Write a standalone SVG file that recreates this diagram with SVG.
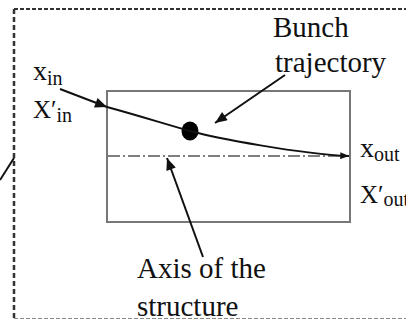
<svg xmlns="http://www.w3.org/2000/svg" width="406" height="321" viewBox="0 0 406 321">
<style>
text{font-family:"Liberation Serif","Times New Roman",serif;fill:#111}
.lbl{font-size:29px}
.sym{font-size:28px}
.big{font-size:25px}
.sub{font-size:20px}
.cn{fill:none;stroke:#111;stroke-width:2}
</style>
<defs>
<marker id="ah" viewBox="0 0 12 10" refX="12" refY="5" markerWidth="14" markerHeight="10" markerUnits="userSpaceOnUse" orient="auto">
<path d="M0,0 L12,5 L0,10 Z" fill="#111"/>
</marker>
<marker id="ahs" viewBox="0 0 10 8" refX="10" refY="4" markerWidth="9" markerHeight="7" markerUnits="userSpaceOnUse" orient="auto">
<path d="M0,0 L10,4 L0,8 Z" fill="#111"/>
</marker>
</defs>
<rect width="406" height="321" fill="#fff"/>
<g id="frame">
<line x1="14" y1="9" x2="406" y2="9" stroke="#333" stroke-width="2" stroke-dasharray="4 2"/>
<line x1="14" y1="9" x2="14" y2="321" stroke="#333" stroke-width="2.5" stroke-dasharray="5 3"/>
<line x1="14" y1="318.5" x2="406" y2="318.5" stroke="#888" stroke-width="1" stroke-dasharray="4 2"/>
</g>
<g id="structure">
<rect x="107" y="91" width="243" height="131" fill="none" stroke="#777" stroke-width="2"/>
<line x1="108" y1="156" x2="349" y2="156" stroke="#555" stroke-width="1.3" stroke-dasharray="12 3 2 3"/>
</g>
<g id="bunch">
<ellipse cx="190" cy="131" rx="8.5" ry="9.5" fill="#000"/>
</g>
<g id="labels">
<text class="lbl" x="273" y="37">Bunch</text>
<text class="lbl" x="275" y="72">trajectory</text>
<text class="lbl" x="137" y="278">Axis of the</text>
<text class="lbl" x="137" y="316">structure</text>
<text class="sym" x="33" y="80">x<tspan class="sub" dy="5">in</tspan></text>
<text class="big" x="33" y="118">X′<tspan class="sub" dy="4">in</tspan></text>
<text class="sym" x="360" y="157">x<tspan class="sub" dy="4">out</tspan></text>
<text class="big" x="360" y="203">X′<tspan class="sub" dy="3">out</tspan></text>
</g>
<g id="connectors">
<line class="cn" x1="0" y1="180" x2="14" y2="158" stroke-width="1.5"/>
<path class="cn" d="M60,89 L107,107" marker-end="url(#ah)"/>
<path class="cn" d="M107,107 C140,116 165,124 190,131 S300,154 349,156" marker-end="url(#ahs)"/>
<path class="cn" d="M285,75 L215,123" marker-end="url(#ah)"/>
<path class="cn" d="M203,257 L167,158" marker-end="url(#ah)"/>
</g>
</svg>
